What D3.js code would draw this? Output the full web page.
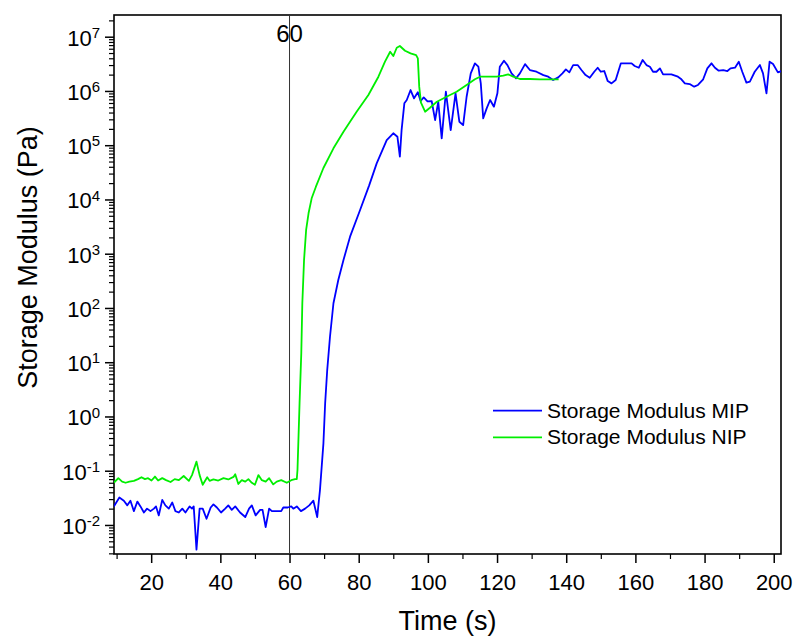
<!DOCTYPE html>
<html>
<head>
<meta charset="utf-8">
<script src="https://cdn.jsdelivr.net/npm/d3@7"></script>
<style>
  body { margin: 0; background: #fff; }
  svg { display: block; font-family: "Liberation Sans", Arial, sans-serif; }
</style>
</head>
<body>
<div id="chart"></div>
<script>
// Storage modulus vs time
const mipTime = [
  9.2, 10.8, 12.1, 13.1, 14.0, 15.0, 16.0, 16.9, 17.9, 18.8, 19.8, 20.8, 21.4, 22.2, 23.2, 24.1,
  25.1, 26.1, 27.0, 28.0, 29.0, 29.9, 31.1, 31.8, 32.3, 33.1, 34.0, 34.9, 36.0, 37.2, 38.0, 39.0,
  40.2, 41.4, 42.3, 43.3, 44.3, 45.7, 47.2, 48.3, 49.1, 50.2, 51.5, 52.2, 53.1, 54.1, 54.9, 56.3,
  57.6, 58.2, 59.5, 60.5, 61.1, 62.1, 63.3, 64.5, 65.7, 66.9, 68.0, 68.8, 69.8, 70.3, 70.9, 71.7,
  72.7, 74.1, 75.6, 77.5, 80.4, 83.0, 85.2, 88.1, 90.0, 91.2, 91.9, 92.4, 93.2, 93.9, 95.0, 96.0,
  97.1, 97.9, 98.8, 99.9, 101.1, 102.1, 103.0, 104.0, 105.2, 106.6, 108.0, 109.1, 110.2, 111.2,
  112.4, 113.6, 114.6, 115.3, 116.0, 117.0, 118.0, 119.1, 120.1, 120.8, 122.0, 123.0, 124.2,
  125.5, 126.6, 128.1, 129.5, 131.4, 133.4, 134.8, 136.2, 137.7, 138.9, 139.9, 140.9, 142.0,
  143.3, 144.4, 145.6, 146.8, 148.1, 149.1, 150.0, 151.0, 152.0, 153.1, 154.3, 155.8, 157.4,
  158.9, 159.8, 161.0, 162.1, 163.2, 164.2, 165.1, 166.1, 167.1, 168.0, 170.4, 172.3, 173.3,
  174.3, 175.7, 177.0, 178.1, 179.6, 180.8, 182.0, 183.0, 184.1, 185.4, 186.6, 187.5, 188.8,
  189.9, 190.9, 192.1, 193.1, 194.5, 196.0, 196.9, 197.9, 198.8, 199.8, 201.2, 202.2
];
const mipModulus = [
  0.022, 0.032, 0.028, 0.023, 0.028, 0.018, 0.027, 0.022, 0.017, 0.020, 0.018, 0.020, 0.022, 0.015, 0.029, 0.023,
  0.020, 0.026, 0.018, 0.017, 0.020, 0.017, 0.022, 0.020, 0.022, 0.0035, 0.020, 0.020, 0.013, 0.021, 0.024, 0.021,
  0.017, 0.020, 0.023, 0.019, 0.022, 0.017, 0.014, 0.020, 0.023, 0.015, 0.019, 0.019, 0.0091, 0.020, 0.018, 0.018,
  0.018, 0.021, 0.021, 0.022, 0.020, 0.022, 0.018, 0.020, 0.023, 0.028, 0.014, 0.044, 0.32, 1.75, 7.2, 29.5,
  122, 327, 766, 2060, 6380, 18000, 46300, 124000, 166000, 143000, 61400, 190000, 592000, 681000, 1040000, 731000,
  944000, 652000, 760000, 640000, 652000, 291000, 632000, 134000, 968000, 190000, 904000, 271000, 235000, 782000,
  2110000, 3230000, 2800000, 1380000, 313000, 478000, 681000, 513000, 904000, 2800000, 3610000, 3000000, 2110000,
  1710000, 2110000, 3130000, 2430000, 2260000, 1960000, 1830000, 1590000, 1780000, 2110000, 2500000, 2200000, 3000000,
  3000000, 2430000, 1960000, 1750000, 2260000, 2680000, 2260000, 2330000, 1520000, 1380000, 1590000, 3230000, 3230000,
  3230000, 2880000, 2680000, 3720000, 3000000, 2800000, 2260000, 2260000, 2610000, 2020000, 2020000, 1830000, 1640000,
  1380000, 1340000, 1200000, 1290000, 1640000, 2610000, 3230000, 2680000, 2360000, 2430000, 2330000, 2610000, 2680000,
  3460000, 2260000, 1420000, 1490000, 2260000, 3000000, 2110000, 904000, 3460000, 3130000, 2200000, 2330000
];

const nipTime = [
  9.2, 10.5, 11.6, 12.6, 13.7, 15.0, 16.2, 17.2, 18.2, 19.1, 20.1, 21.1, 22.0, 23.2, 24.3, 25.6,
  26.8, 28.0, 29.4, 30.9, 31.8, 33.1, 34.0, 34.9, 36.2, 36.9, 38.0, 39.4, 40.9, 42.3, 43.8, 44.3,
  45.2, 46.2, 47.2, 48.1, 49.1, 50.0, 51.0, 52.0, 53.1, 54.1, 55.3, 56.3, 57.6, 59.2, 60.5, 61.6,
  62.1, 62.3, 62.9, 63.4, 63.7, 64.2, 64.8, 65.5, 66.4, 67.6, 69.8, 72.7, 75.6, 79.4, 82.8, 85.7,
  87.6, 89.1, 90.0, 91.0, 91.9, 93.4, 95.0, 96.6, 97.1, 97.5, 98.0, 99.2, 100.6, 102.6, 105.4,
  108.3, 111.2, 113.6, 115.1, 117.0, 119.9, 121.8, 123.2, 124.7, 126.6, 129.5, 132.4, 135.3, 137.8
];
const nipModulus = [
  0.060, 0.073, 0.063, 0.060, 0.063, 0.065, 0.070, 0.076, 0.070, 0.073, 0.066, 0.078, 0.066, 0.073, 0.067, 0.062,
  0.070, 0.067, 0.080, 0.065, 0.083, 0.147, 0.083, 0.055, 0.076, 0.065, 0.069, 0.066, 0.073, 0.069, 0.077, 0.086,
  0.057, 0.067, 0.063, 0.070, 0.060, 0.055, 0.083, 0.067, 0.063, 0.073, 0.056, 0.063, 0.067, 0.060, 0.067, 0.070,
  0.070, 0.103, 1.75, 14.6, 122, 766, 2740, 5560, 10500, 17000, 38000, 87700, 177000, 414000, 841000, 1830000,
  3460000, 5280000, 4400000, 6260000, 6730000, 5500000, 4930000, 4590000, 3990000, 1200000, 607000, 414000, 490000, 632000, 782000,
  968000, 1290000, 1640000, 1830000, 1830000, 1830000, 1910000, 2020000, 1830000, 1660000, 1660000, 1640000, 1640000, 1640000
];

const xTicks = [20, 40, 60, 80, 100, 120, 140, 160, 180, 200];
const xMinorTicks = [10, 30, 50, 70, 90, 110, 130, 150, 170, 190];
const yExponents = [-2, -1, 0, 1, 2, 3, 4, 5, 6, 7];
const markerTime = 60;
const seriesNames = ["Storage Modulus MIP", "Storage Modulus NIP"];
const seriesColors = ["#0000ff", "#00ee00"];

const width = 795;
const height = 637;
const margin = { top: 15, right: 14, bottom: 83, left: 114 };

const svg = d3
  .select("#chart")
  .append("svg")
  .attr("width", width)
  .attr("height", height);

const x = d3
  .scaleLinear()
  .domain([9.25, 202.1])
  .range([margin.left, width - margin.right]);

const y = d3
  .scaleLog()
  .domain([Math.pow(10, -2.535), Math.pow(10, 7.4)])
  .range([height - margin.bottom, margin.top]);

// minor log ticks 2..9 in each decade
const yMinorTicks = [];
for (let k = -3; k <= 7; k++) {
  for (let m = 2; m <= 9; m++) {
    const v = m * Math.pow(10, k);
    if (v >= y.domain()[0] && v <= y.domain()[1]) yMinorTicks.push(v);
  }
}

svg.append("clipPath")
  .attr("id", "plot-clip")
  .append("rect")
  .attr("x", margin.left)
  .attr("y", margin.top)
  .attr("width", width - margin.left - margin.right)
  .attr("height", height - margin.top - margin.bottom);

// x axis
const xAxisG = svg.append("g")
  .attr("transform", `translate(0, ${height - margin.bottom})`)
  .call(d3.axisBottom(x).tickValues(xTicks).tickSize(9).tickSizeOuter(0));
xAxisG.select(".domain").remove();
xAxisG.selectAll("line").attr("stroke-width", 1.5);
xAxisG.selectAll("text")
  .attr("y", 36)
  .attr("dy", null)
  .attr("font-size", "22px")
  .attr("fill", "#000");

svg.append("g")
  .attr("transform", `translate(0, ${height - margin.bottom})`)
  .call(d3.axisBottom(x).tickValues(xMinorTicks).tickSize(5).tickFormat(""))
  .call(g => g.select(".domain").remove())
  .selectAll("line").attr("stroke-width", 1.2);

// y axis
const yAxisG = svg.append("g")
  .attr("transform", `translate(${margin.left}, 0)`)
  .call(d3.axisLeft(y).tickValues(yExponents.map(e => Math.pow(10, e))).tickSize(9).tickFormat(""));
yAxisG.select(".domain").remove();
yAxisG.selectAll("line").attr("stroke-width", 1.5);
yAxisG.selectAll(".tick text")
  .attr("x", -14)
  .attr("dy", "8.3")
  .attr("fill", "#000")
  .each(function(d) {
    const t = d3.select(this);
    t.append("tspan").attr("font-size", "22px").text("10");
    t.append("tspan")
      .attr("font-size", "15px")
      .attr("dy", -7.6)
      .text(Math.round(Math.log10(d)));
  });

svg.append("g")
  .attr("transform", `translate(${margin.left}, 0)`)
  .call(d3.axisLeft(y).tickValues(yMinorTicks).tickSize(5).tickFormat(""))
  .call(g => g.select(".domain").remove())
  .selectAll("line").attr("stroke-width", 1.2);

// frame
svg.append("rect")
  .attr("x", margin.left)
  .attr("y", margin.top)
  .attr("width", width - margin.left - margin.right)
  .attr("height", height - margin.top - margin.bottom)
  .attr("fill", "none")
  .attr("stroke", "#000")
  .attr("stroke-width", 1.6);

// marker at 60 s
svg.append("line")
  .attr("x1", x(markerTime))
  .attr("x2", x(markerTime))
  .attr("y1", margin.top)
  .attr("y2", height - margin.bottom)
  .attr("stroke", "#333")
  .attr("stroke-width", 1);

svg.append("text")
  .attr("x", x(markerTime))
  .attr("y", 41.5)
  .attr("text-anchor", "middle")
  .attr("font-size", "24px")
  .text(markerTime);

// lines
const line = d3.line()
  .x(d => x(d[0]))
  .y(d => y(d[1]));

const series = [
  d3.zip(mipTime, mipModulus),
  d3.zip(nipTime, nipModulus)
];

svg.append("g")
  .attr("clip-path", "url(#plot-clip)")
  .selectAll("path")
  .data(series)
  .join("path")
  .attr("d", line)
  .attr("fill", "none")
  .attr("stroke", (d, i) => seriesColors[i])
  .attr("stroke-width", 1.8)
  .attr("stroke-linejoin", "round");

// axis titles
svg.append("text")
  .attr("x", (margin.left + width - margin.right) / 2)
  .attr("y", 630)
  .attr("text-anchor", "middle")
  .attr("font-size", "27px")
  .text("Time (s)");

svg.append("text")
  .attr("transform", "translate(37, 257.5) rotate(-90)")
  .attr("text-anchor", "middle")
  .attr("font-size", "27px")
  .text("Storage Modulus (Pa)");

// legend
const legend = svg.append("g")
  .selectAll("g")
  .data(seriesNames)
  .join("g")
  .attr("transform", (d, i) => `translate(493, ${410.7 + i * 26.6})`);

legend.append("line")
  .attr("x1", 0)
  .attr("x2", 49)
  .attr("stroke", (d, i) => seriesColors[i])
  .attr("stroke-width", 1.8);

legend.append("text")
  .attr("x", 54)
  .attr("y", 7)
  .attr("font-size", "21px")
  .text(d => d);
</script>
</body>
</html>
